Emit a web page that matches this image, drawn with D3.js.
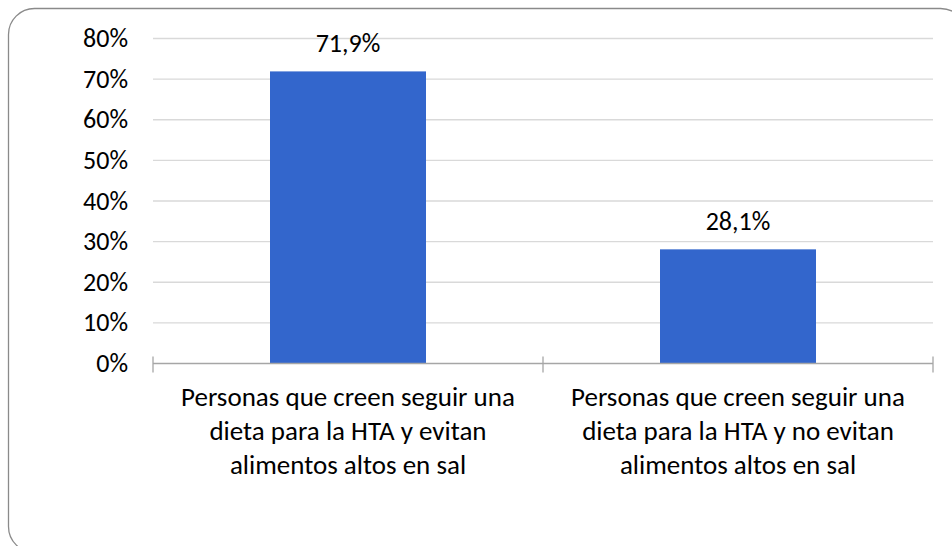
<!DOCTYPE html>
<html>
<head>
<meta charset="utf-8">
<script src="https://cdn.jsdelivr.net/npm/d3@7"></script>
<style>
  html, body { margin: 0; padding: 0; background: #fff; }
  svg { display: block; }
  text { font-family: Carlito, Calibri, Lato, "Open Sans", sans-serif; fill: #000; }
</style>
</head>
<body>
<svg id="chart" width="952" height="546"></svg>
<script>
const categories = [
  ["Personas que creen seguir una", "dieta para la HTA y evitan", "alimentos altos en sal"],
  ["Personas que creen seguir una", "dieta para la HTA y no evitan", "alimentos altos en sal"]
];
const values = [0.719, 0.281];
const valueLabels = ["71,9%", "28,1%"];
const yTicks = [0, 0.1, 0.2, 0.3, 0.4, 0.5, 0.6, 0.7, 0.8];

(function () {
const svg = d3.select("#chart");
const mLeft = 153, mRight = 933, mTop = 38.5, mBottom = 363.5;
const fs = 26;

svg.append("rect")
  .attr("x", 8.5).attr("y", 8.5)
  .attr("width", 958).attr("height", 544)
  .attr("rx", 26).attr("ry", 26)
  .attr("fill", "#fff").attr("stroke", "#8a8a8a").attr("stroke-width", 1.3);

const x = d3.scaleBand().domain(d3.range(categories.length)).range([mLeft, mRight]).paddingInner(0).paddingOuter(0);
const y = d3.scaleLinear().domain([0, 0.8]).range([mBottom, mTop]);

svg.append("g").selectAll("line").data(yTicks.filter(d => d > 0)).join("line")
  .attr("x1", mLeft).attr("x2", mRight)
  .attr("y1", d => y(d)).attr("y2", d => y(d))
  .attr("stroke", "#d9d9d9").attr("stroke-width", 1.3);

const fmtPct = d => Math.round(d * 100) + "%";
svg.append("g").selectAll("text").data(yTicks).join("text")
  .attr("x", 128).attr("y", d => y(d))
  .attr("dy", "0.33em")
  .attr("text-anchor", "end")
  .attr("font-size", fs)
  .text(fmtPct);

const barW = x.bandwidth() * 0.4;
svg.append("g").selectAll("rect").data(values).join("rect")
  .attr("x", (d, i) => x(i) + (x.bandwidth() - barW) / 2)
  .attr("y", d => y(d))
  .attr("width", barW)
  .attr("height", d => mBottom - y(d))
  .attr("fill", "#3366cc");

svg.append("g").selectAll("text").data(values).join("text")
  .attr("x", (d, i) => x(i) + x.bandwidth() / 2)
  .attr("y", d => y(d) - 19)
  .attr("text-anchor", "middle")
  .attr("font-size", fs)
  .text((d, i) => valueLabels[i]);

svg.append("line")
  .attr("x1", mLeft).attr("x2", mRight).attr("y1", mBottom).attr("y2", mBottom)
  .attr("stroke", "#a6a6a6").attr("stroke-width", 1.3);
const tickPos = d3.range(categories.length + 1).map(i => i < categories.length ? x(i) : x(i - 1) + x.bandwidth());
svg.append("g").selectAll("line").data(tickPos).join("line")
  .attr("x1", d => d).attr("x2", d => d)
  .attr("y1", mBottom - 7).attr("y2", mBottom + 9)
  .attr("stroke", "#a6a6a6").attr("stroke-width", 1.3);

const cl = svg.append("g").selectAll("text").data(categories).join("text")
  .attr("x", (d, i) => x(i) + x.bandwidth() / 2)
  .attr("y", 406)
  .attr("text-anchor", "middle")
  .attr("font-size", 27);
cl.selectAll("tspan").data(d => d).join("tspan")
  .attr("x", function() { return d3.select(this.parentNode).attr("x"); })
  .attr("dy", (d, i) => i === 0 ? 0 : 34)
  .text(d => d);
})();
</script>
</body>
</html>
